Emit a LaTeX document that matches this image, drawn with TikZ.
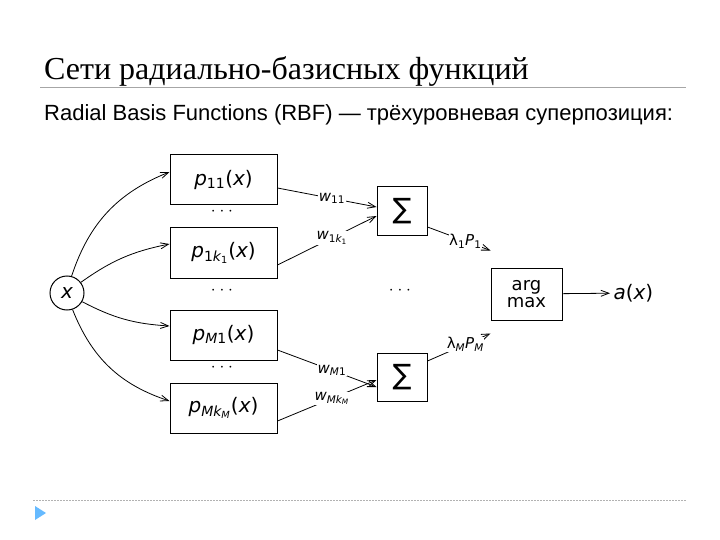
\documentclass[tikz,border=0pt]{standalone}
\usepackage{fontspec}
\setmainfont{Liberation Serif}
\setsansfont{DejaVu Sans}
\newfontfamily\subfnt{Liberation Sans}
\usetikzlibrary{arrows.meta}
\newcommand{\iv}[1]{{\itshape #1}}
\newcommand{\sbs}[1]{\textsubscript{#1}}
\begin{document}
\begin{tikzpicture}[x=1pt,y=-1pt,
  box/.style={draw,line width=1pt,minimum width=107pt,minimum height=50pt,font=\sffamily\fontsize{20}{20}\selectfont},
  sbox/.style={draw,line width=1pt,minimum width=50pt,minimum height=48pt,font=\sffamily\fontsize{28}{28}\selectfont},
  con/.style={-{Straight Barb[length=8pt,width=6pt]},line width=0.8pt},
  lab/.style={font=\sffamily\fontsize{15}{16}\selectfont,fill=white,inner sep=0.5pt},
  dots/.style={font=\sffamily\fontsize{18}{18}\selectfont}]
\useasboundingbox (0,0) rectangle (720,540);
\node[anchor=base west,inner sep=0,font=\fontsize{32}{34}\selectfont] (title) at (44,80) {Сети радиально-базисных функций};
\draw[gray!70,line width=1pt] (40,88) coordinate (l1) -- (686,88) coordinate (l2);
\node[anchor=base west,inner sep=0,font=\subfnt\fontsize{22}{24}\selectfont] (sub) at (44,121) {Radial Basis Functions (RBF) — трёхуровневая суперпозиция:};
\node[draw,line width=1pt,circle,minimum size=34pt,inner sep=0,font=\sffamily\fontsize{20}{20}\selectfont] (x) at (67,293) {\iv{x}};
\node[box] (p1) at (223.5,180) {\iv{p}\sbs{11}(\iv{x})};
\node[box] (p2) at (223.5,253) {\iv{p}\sbs{1\iv{k}\sbs{1}}(\iv{x})};
\node[box] (p3) at (223.5,335) {\iv{p}\sbs{\iv{M}1}(\iv{x})};
\node[box] (p4) at (223.5,408) {\iv{p}\sbs{\iv{Mk}\sbs{\iv{M}}}(\iv{x})};
\node[dots] (d1) at (222,212) {$\cdot\cdot\cdot$};
\node[dots] (d2) at (222,291) {$\cdot\cdot\cdot$};
\node[dots] (d3) at (222,368) {$\cdot\cdot\cdot$};
\node[dots] (d4) at (400,291) {$\cdot\cdot\cdot$};
\node[sbox] (s1) at (402,211) {∑};
\node[sbox] (s2) at (402,377) {∑};
\node[draw,line width=1pt,minimum width=71pt,minimum height=52pt,align=center,font=\sffamily\fontsize{18}{17}\selectfont] (am) at (526.5,294) {arg\\max};
\node[font=\sffamily\fontsize{20}{20}\selectfont,anchor=west] (a) at (610,293) {\iv{a}(\iv{x})};
\draw[con] (x) to[bend left=25] ([yshift=8pt]p1.west);
\draw[con] (x) to[bend left=12] ([yshift=9pt]p2.west);
\draw[con] (x) to[bend right=12] ([yshift=9pt]p3.west);
\draw[con] (x) to[bend right=25] ([yshift=7pt]p4.west);
\draw[con] ([yshift=-8pt]p1.east) -- node[lab,pos=0.55]{\iv{w}\sbs{11}} ([yshift=4pt]s1.west);
\draw[con] ([yshift=-12pt]p2.east) -- node[lab,pos=0.55]{\iv{w}\sbs{1\iv{k}\sbs{1}}} ([yshift=-5pt]s1.west);
\draw[con] ([yshift=-15pt]p3.east) -- node[lab,pos=0.55]{\iv{w}\sbs{\iv{M}1}} ([yshift=-10pt]s2.west);
\draw[con] ([yshift=-13pt]p4.east) -- node[lab,pos=0.55]{\iv{w}\sbs{\iv{Mk}\sbs{\iv{M}}}} ([yshift=-3pt]s2.west);
\draw[con] ([yshift=-16pt]s1.east) -- node[lab,pos=0.6]{λ\sbs{1}\iv{P}\sbs{1}} ([yshift=17pt]am.north west);
\draw[con] ([yshift=16pt]s2.east) -- node[lab,pos=0.6]{λ\sbs{\iv{M}}\iv{P}\sbs{\iv{M}}} ([yshift=-13pt]am.south west);
\draw[con] (am) -- (a);
\draw[gray!60,dashed,dash pattern=on 2pt off 1pt] (33,500) coordinate (b1) -- (686,500) coordinate (b2);
\fill[blue!45!cyan!60] (35,506) -- (46,513) -- (35,520) -- cycle;
\end{tikzpicture}
\end{document}
